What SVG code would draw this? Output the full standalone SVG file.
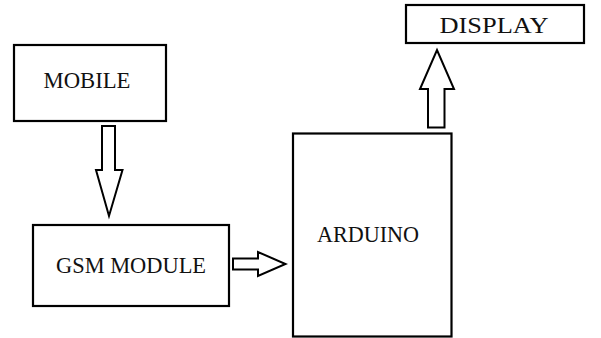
<svg xmlns="http://www.w3.org/2000/svg" width="601" height="338" viewBox="0 0 601 338">
<style>
.box{fill:#fff;stroke:#000;stroke-width:2.2}
.lbl{font-family:"Liberation Serif",serif;font-size:23px;fill:#111;text-anchor:middle}
.arr{fill:#fff;stroke:#000;stroke-width:2;stroke-linejoin:miter}
</style>
<rect width="601" height="338" fill="#fff"/>
<g id="connectors">
<polygon class="arr" points="102,126 115,126 115,170 122.5,170 109,216 96,170 102,170"/>
<polygon class="arr" points="233,258.5 258,258.5 258,252 285.5,264 258,276 258,269.5 233,269.5"/>
<polygon class="arr" points="428,127.5 444.5,127.5 444.5,89 454,89 437,50 420,89 428,89"/>
</g>
<g id="mobile">
<rect class="box" x="14" y="45" width="152" height="76"/>
<text class="lbl" x="87" y="88" textLength="87" lengthAdjust="spacingAndGlyphs">MOBILE</text>
</g>
<g id="gsm">
<rect class="box" x="33" y="225" width="196" height="81"/>
<text class="lbl" x="131" y="273" textLength="150" lengthAdjust="spacingAndGlyphs">GSM MODULE</text>
</g>
<g id="arduino">
<rect class="box" x="293" y="133.5" width="158.5" height="203"/>
<text class="lbl" x="368" y="242" textLength="102" lengthAdjust="spacingAndGlyphs">ARDUINO</text>
</g>
<g id="display">
<rect class="box" x="406" y="5" width="178" height="38"/>
<text class="lbl" x="494" y="33" textLength="109" lengthAdjust="spacingAndGlyphs">DISPLAY</text>
</g>
</svg>
